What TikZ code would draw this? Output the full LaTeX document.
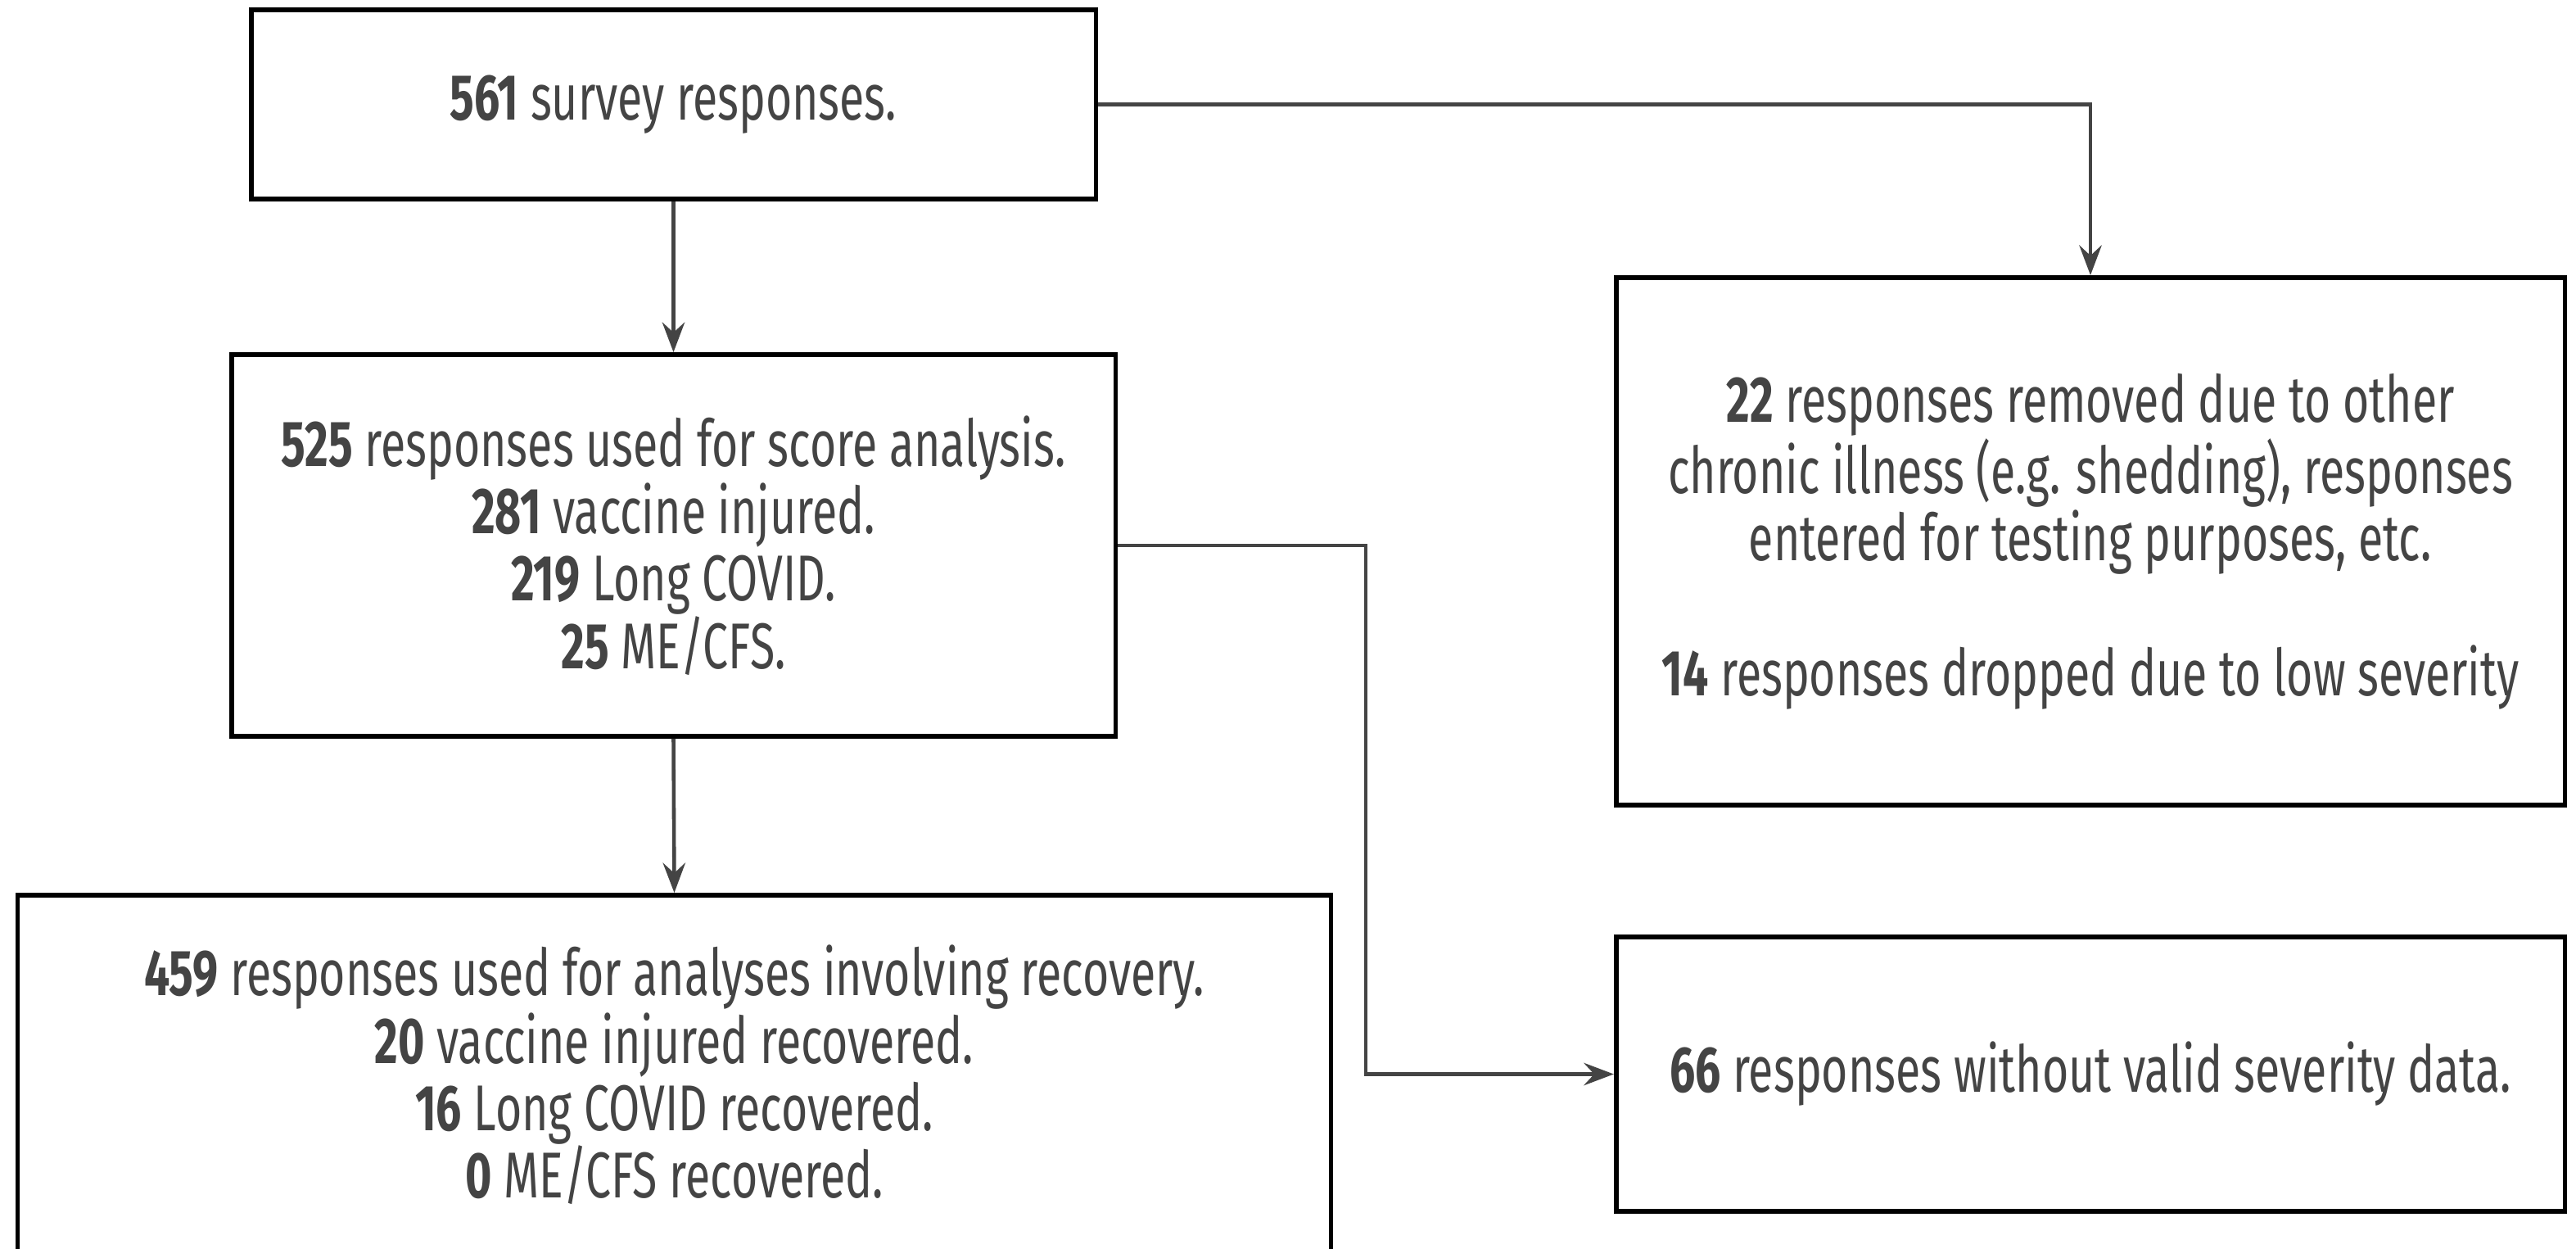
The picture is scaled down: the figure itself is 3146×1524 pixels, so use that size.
\documentclass[tikz,border=0pt]{standalone}
\usepackage{fontspec}
\setmainfont[FakeStretch=0.70]{Fira Sans}
\usetikzlibrary{arrows.meta}
\definecolor{txt}{HTML}{444444}
\begin{document}
\begin{tikzpicture}[x=0.01cm,y=-0.01cm,
  box/.style={draw=black,line width=1.6pt,align=center,text=txt,inner sep=0pt,
    font=\fontsize{22.5}{23.4}\selectfont},
  conn/.style={draw=txt,line width=1.3pt,-{Stealth[length=10.4pt,width=7.8pt,inset=3.6pt]}}]
\useasboundingbox[fill=white] (0,0) rectangle (3146,1524);
\node[box,minimum width=10.31cm,minimum height=2.31cm] (b1) at (822.5,127.5)
  {\textbf{561} survey responses.};
\node[box,minimum width=10.79cm,minimum height=4.66cm] (b2) at (822.5,666)
  {\textbf{525} responses used for score analysis.\\
   \textbf{281} vaccine injured.\\
   \textbf{219} Long COVID.\\
   \textbf{25} ME/CFS.};
\node[box,minimum width=16.03cm,minimum height=4.39cm] (b3) at (823.5,1312.5)
  {\textbf{459} responses used for analyses involving recovery.\\
   \textbf{20} vaccine injured recovered.\\
   \textbf{16} Long COVID recovered.\\
   \textbf{0} ME/CFS recovered.};
\node[box,minimum width=11.58cm,minimum height=6.44cm] (b4) at (2553,661)
  {\textbf{22} responses removed due to other\\
   chronic illness (e.g. shedding), responses\\
   entered for testing purposes, etc.\\
   ~\\
   \textbf{14} responses dropped due to low severity};
\node[box,minimum width=11.58cm,minimum height=3.35cm] (b5) at (2553,1311.5)
  {\textbf{66} responses without valid severity data.};
\coordinate (j) at (1668,666);
\draw[conn] (b1.south) -- (b2.north);
\draw[conn] (b1.east) -| (b4.north);
\draw[conn] (b2.south) -- (b3.north);
\draw[conn] (b2.east) -- (j) |- (b5.west);
\end{tikzpicture}
\end{document}
